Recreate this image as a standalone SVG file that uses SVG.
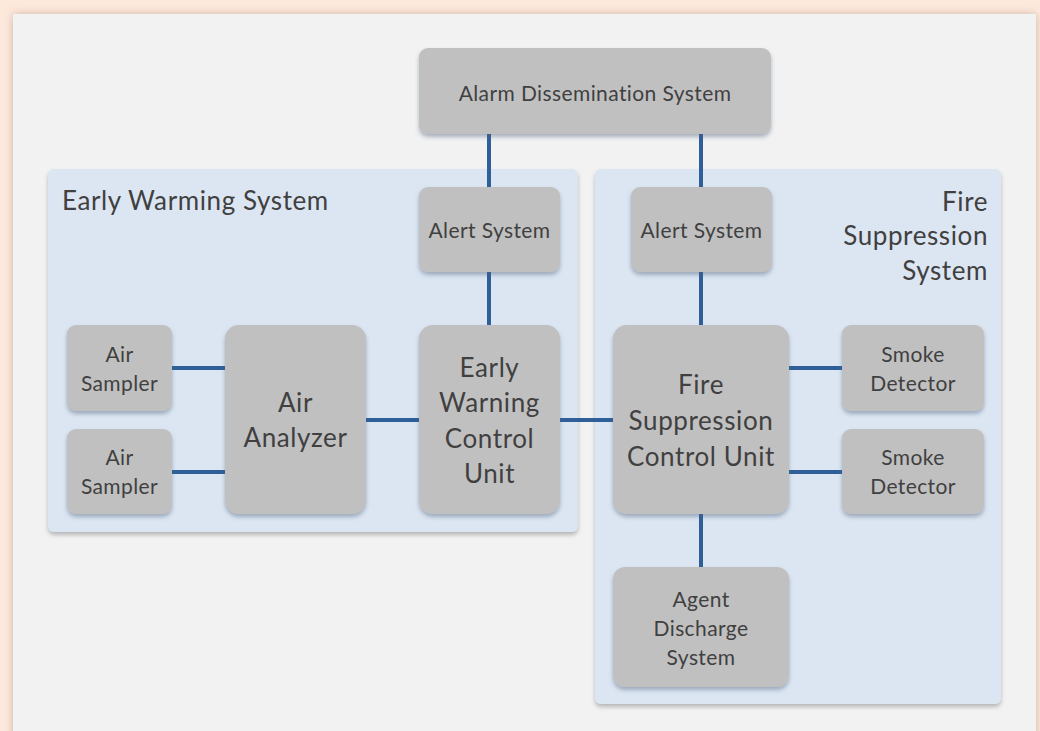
<svg xmlns="http://www.w3.org/2000/svg" width="1040" height="731" viewBox="0 0 1040 731">
<style>
.node{fill:#c0c0c0;filter:url(#sh)}
.grp{fill:#dce6f2;filter:url(#gsh)}
text{font-family:Lato,"Open Sans","Liberation Sans",sans-serif;fill:#404040}
.s{font-size:21px;letter-spacing:0.4px;text-anchor:middle}
.l{font-size:26px;letter-spacing:0.6px;text-anchor:middle}
.t{font-size:26px;letter-spacing:0.6px}
.c{stroke:#2f5f99;stroke-width:4;fill:none}
</style>
<defs>
<filter id="sh" x="-10%" y="-10%" width="120%" height="125%">
<feDropShadow dx="0" dy="3" stdDeviation="2" flood-color="#50607a" flood-opacity="0.45"/>
</filter>
<filter id="gsh" x="-5%" y="-5%" width="110%" height="110%">
<feDropShadow dx="0" dy="3" stdDeviation="2" flood-color="#606060" flood-opacity="0.4"/>
</filter>
<filter id="psh" x="-5%" y="-5%" width="110%" height="110%">
<feDropShadow dx="0" dy="0" stdDeviation="4" flood-color="#a08070" flood-opacity="0.5"/>
</filter>
</defs>
<rect x="0" y="0" width="1040" height="731" fill="#fde9dc"/>
<rect x="13" y="14" width="1023" height="760" fill="#f2f2f2" filter="url(#psh)"/>

<g id="group-early-warming">
<rect class="grp" x="48" y="169" width="530" height="363" rx="6"/>
<text class="t" x="62" y="210">Early Warming System</text>
</g>
<g id="group-fire-suppression">
<rect class="grp" x="595" y="169" width="406" height="535" rx="6"/>
<text class="t" x="988" y="211" text-anchor="end">Fire</text>
<text class="t" x="988" y="245" text-anchor="end">Suppression</text>
<text class="t" x="988" y="280" text-anchor="end">System</text>
</g>

<g id="connectors">
<line class="c" x1="489" y1="134" x2="489" y2="187"/>
<line class="c" x1="701" y1="134" x2="701" y2="187"/>
<line class="c" x1="489" y1="272" x2="489" y2="325"/>
<line class="c" x1="701" y1="272" x2="701" y2="325"/>
<line class="c" x1="172" y1="368" x2="225" y2="368"/>
<line class="c" x1="172" y1="472" x2="225" y2="472"/>
<line class="c" x1="366" y1="420" x2="419" y2="420"/>
<line class="c" x1="560" y1="420" x2="613" y2="420"/>
<line class="c" x1="789" y1="368" x2="842" y2="368"/>
<line class="c" x1="789" y1="472" x2="842" y2="472"/>
<line class="c" x1="701" y1="514" x2="701" y2="567"/>
</g>

<g id="alarm-dissemination">
<rect class="node" x="419" y="48" width="352" height="86" rx="9"/>
<text class="s" x="595" y="101">Alarm Dissemination System</text>
</g>
<g id="alert-left">
<rect class="node" x="419" y="187" width="141" height="85" rx="9"/>
<text class="s" x="489.5" y="238">Alert System</text>
</g>
<g id="alert-right">
<rect class="node" x="631" y="187" width="141" height="85" rx="9"/>
<text class="s" x="701.5" y="238">Alert System</text>
</g>
<g id="air-sampler-1">
<rect class="node" x="67" y="325" width="105" height="86" rx="9"/>
<text class="s" x="119.5" y="362">Air</text>
<text class="s" x="119.5" y="391">Sampler</text>
</g>
<g id="air-sampler-2">
<rect class="node" x="67" y="429" width="105" height="85" rx="9"/>
<text class="s" x="119.5" y="465">Air</text>
<text class="s" x="119.5" y="494">Sampler</text>
</g>
<g id="air-analyzer">
<rect class="node" x="225" y="325" width="141" height="189" rx="14"/>
<text class="l" x="295.5" y="412">Air</text>
<text class="l" x="295.5" y="447">Analyzer</text>
</g>
<g id="early-warning-cu">
<rect class="node" x="419" y="325" width="141" height="189" rx="14"/>
<text class="l" x="489.5" y="377">Early</text>
<text class="l" x="489.5" y="412">Warning</text>
<text class="l" x="489.5" y="448">Control</text>
<text class="l" x="489.5" y="483">Unit</text>
</g>
<g id="fire-suppression-cu">
<rect class="node" x="613" y="325" width="176" height="189" rx="14"/>
<text class="l" x="701" y="394">Fire</text>
<text class="l" x="701" y="430">Suppression</text>
<text class="l" x="701" y="466">Control Unit</text>
</g>
<g id="smoke-detector-1">
<rect class="node" x="842" y="325" width="142" height="86" rx="9"/>
<text class="s" x="913" y="362">Smoke</text>
<text class="s" x="913" y="391">Detector</text>
</g>
<g id="smoke-detector-2">
<rect class="node" x="842" y="429" width="142" height="85" rx="9"/>
<text class="s" x="913" y="465">Smoke</text>
<text class="s" x="913" y="494">Detector</text>
</g>
<g id="agent-discharge">
<rect class="node" x="613" y="567" width="176" height="120" rx="12"/>
<text class="s" x="701" y="607">Agent</text>
<text class="s" x="701" y="636">Discharge</text>
<text class="s" x="701" y="665">System</text>
</g>
</svg>
